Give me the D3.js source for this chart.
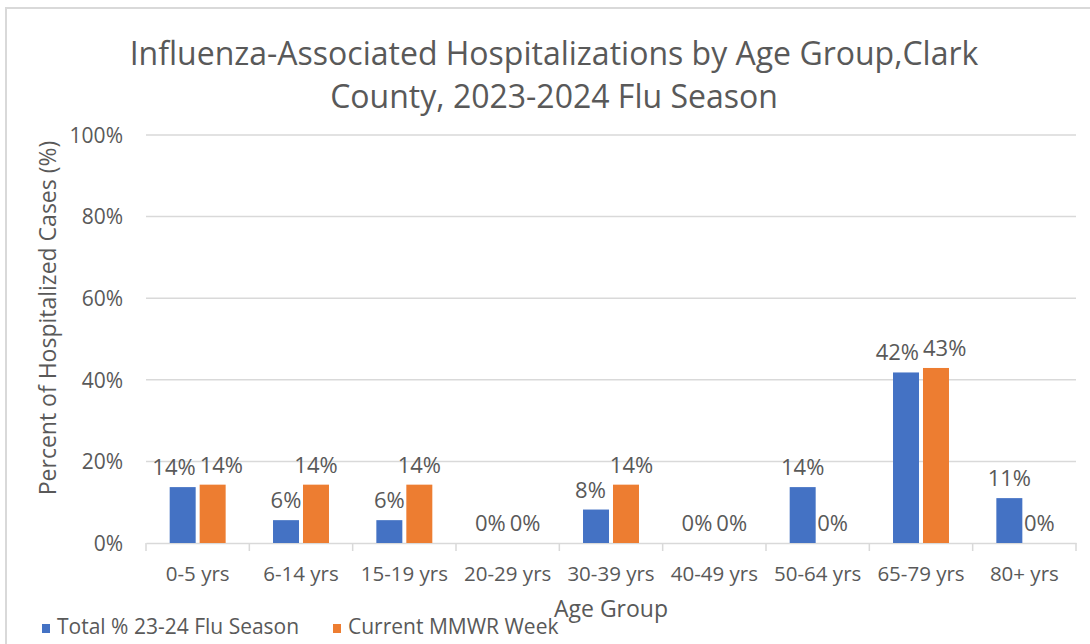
<!DOCTYPE html>
<html>
<head>
<meta charset="utf-8">
<script src="https://cdn.jsdelivr.net/npm/d3@7"></script>
<style>
  body { margin: 0; background: #fff; }
  svg text { font-family: "Open Sans", "Noto Sans", sans-serif; fill: #595959; }
</style>
</head>
<body>
<div id="container"></div>
<script>
// data
var ageGroups = ["0-5 yrs", "6-14 yrs", "15-19 yrs", "20-29 yrs", "30-39 yrs", "40-49 yrs", "50-64 yrs", "65-79 yrs", "80+ yrs"];
var seriesNames = ["Total % 23-24 Flu Season", "Current MMWR Week"];
var seasonTotal = [0.137, 0.056, 0.056, 0, 0.082, 0, 0.137, 0.418, 0.11];
var currentWeek = [0.143, 0.143, 0.143, 0, 0.143, 0, 0, 0.429, 0];
var yTicks = [0, 0.2, 0.4, 0.6, 0.8, 1];
var colors = ["#4472C4", "#ED7D31"];

var width = 1090,
    height = 644,
    left = 146,
    right = 1076,
    top_ = 135,
    bottom = 543;

var svg = d3.select("#container")
    .append("svg")
    .attr("width", width)
    .attr("height", height);

// chart frame
svg.append("path")
    .attr("d", "M6," + height + "V8H" + width)
    .attr("fill", "none")
    .attr("stroke", "#d9d9d9")
    .attr("stroke-width", 2);

// scales
var x = d3.scaleBand().domain(ageGroups).range([left, right]);
var xs = d3.scaleBand().domain(seriesNames).range([0, x.bandwidth()])
    .paddingInner(0.133).paddingOuter(0.79);
var y = d3.scaleLinear().domain([0, 1]).range([bottom, top_]);

// grid
svg.append("g").selectAll("line")
    .data(yTicks.slice(1))
    .enter().append("line")
    .attr("x1", left).attr("x2", right)
    .attr("y1", function (d) { return y(d) }).attr("y2", function (d) { return y(d) })
    .attr("stroke", "#d9d9d9").attr("stroke-width", 1.5);

// y axis labels
var yAxis = svg.append("g")
    .attr("transform", "translate(" + (left - 23) + ",0)")
    .call(d3.axisLeft(y).tickValues(yTicks).tickFormat(d3.format(".0%")).tickSize(0).tickPadding(0));
yAxis.select(".domain").remove();
yAxis.selectAll("text").attr("font-size", 21).attr("fill", "#595959").attr("dy", "0.35em");

// x axis
var xAxis = svg.append("g")
    .attr("transform", "translate(0," + bottom + ")")
    .call(d3.axisBottom(x).tickSize(0));
xAxis.select(".domain").attr("stroke", "#d9d9d9").attr("stroke-width", 1.5);
xAxis.selectAll("text").attr("font-size", 20.5).attr("fill", "#595959")
    .attr("y", 38).attr("dy", 0);
svg.append("g").selectAll("line")
    .data(d3.range(ageGroups.length + 1))
    .enter().append("line")
    .attr("x1", function (i) { return left + i * x.step() })
    .attr("x2", function (i) { return left + i * x.step() })
    .attr("y1", bottom).attr("y2", bottom + 8)
    .attr("stroke", "#d9d9d9").attr("stroke-width", 1.5);

// bars
var rows = ageGroups.map(function (g, i) {
    return { group: g, values: [seasonTotal[i], currentWeek[i]] };
});

var groups = svg.append("g").selectAll("g")
    .data(rows)
    .enter().append("g")
    .attr("transform", function (d) { return "translate(" + x(d.group) + ",0)" });

function pairs(d) {
    return d.values.map(function (v, j) { return { s: seriesNames[j], v: v, j: j } });
}

groups.selectAll("rect")
    .data(pairs)
    .enter().append("rect")
    .attr("x", function (d) { return xs(d.s) })
    .attr("width", xs.bandwidth())
    .attr("y", function (d) { return y(d.v) })
    .attr("height", function (d) { return y(0) - y(d.v) })
    .attr("fill", function (d) { return colors[d.j] });

groups.selectAll("text")
    .data(pairs)
    .enter().append("text")
    .attr("x", function (d) { return xs(d.s) + xs.bandwidth() / 2 })
    .attr("y", function (d) { return y(d.v) - 12 })
    .attr("text-anchor", "middle")
    .attr("font-size", 22)
    .text(function (d) { return d3.format(".0%")(d.v) });

// push labels apart when the two of a group collide, like Excel does
groups.each(function () {
    var t = d3.select(this).selectAll("text").nodes();
    var a = t[0].getBBox(), b = t[1].getBBox();
    var overlapX = a.x + a.width - b.x + 4;
    var overlapY = Math.min(a.y + a.height, b.y + b.height) - Math.max(a.y, b.y);
    if (overlapX > 0 && overlapY > 0) {
        d3.select(t[0]).attr("x", +t[0].getAttribute("x") - overlapX / 2);
        d3.select(t[1]).attr("x", +t[1].getAttribute("x") + overlapX / 2);
    }
});

// titles
var title = svg.append("text")
    .attr("text-anchor", "middle")
    .attr("font-size", 32);
title.append("tspan").attr("x", 554).attr("y", 65).text("Influenza-Associated Hospitalizations by Age Group,Clark");
title.append("tspan").attr("x", 554).attr("y", 108).text("County, 2023-2024 Flu Season");

svg.append("text")
    .attr("transform", "translate(56,318) rotate(-90)")
    .attr("text-anchor", "middle")
    .attr("font-size", 23)
    .text("Percent of Hospitalized Cases (%)");

svg.append("text")
    .attr("x", 611).attr("y", 617)
    .attr("text-anchor", "middle")
    .attr("font-size", 23)
    .text("Age Group");

// legend
var legendX = [42, 333];
var legend = svg.append("g").selectAll("g")
    .data(seriesNames)
    .enter().append("g")
    .attr("transform", function (d, i) { return "translate(" + legendX[i] + ",0)" });
legend.append("rect")
    .attr("y", 624).attr("width", 8).attr("height", 9)
    .attr("fill", function (d, i) { return colors[i] });
legend.append("text")
    .attr("x", 15).attr("y", 634)
    .attr("font-size", 21)
    .text(function (d) { return d });
</script>
</body>
</html>
